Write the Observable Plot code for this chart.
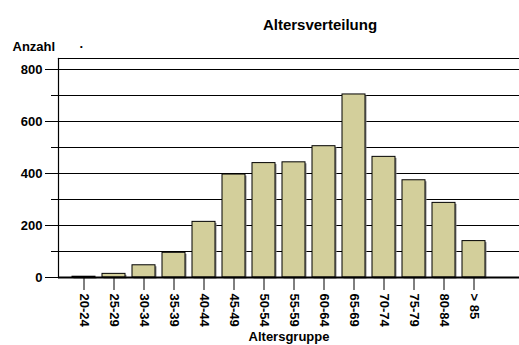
<!DOCTYPE html>
<html>
<head>
<meta charset="utf-8">
<script src="https://cdn.jsdelivr.net/npm/d3@7"></script>
<script src="https://cdn.jsdelivr.net/npm/@observablehq/plot@0.6"></script>
<style>
  body { margin: 0; background: #fff; }
  svg { font-family: "Liberation Sans", Arial, sans-serif; }
  svg text { font-weight: bold; fill: #000; }
</style>
</head>
<body>
<div id="chart"></div>
<script>
const groups = ["20-24","25-29","30-34","35-39","40-44","45-49","50-54","55-59","60-64","65-69","70-74","75-79","80-84","> 85"];
const counts = [3, 14, 47, 95, 214, 396, 440, 443, 505, 704, 464, 374, 287, 140];
const majorTicks = [0, 200, 400, 600, 800];
const minorTicks = [100, 300, 500, 700];
const gridValues = [100, 200, 300, 400, 500, 600, 700, 800];

const data = groups.map((g, i) => ({group: g, count: counts[i]}));

const chart = Plot.plot({
  width: 519,
  height: 345,
  marginLeft: 58,
  marginRight: 0,
  marginTop: 58,
  marginBottom: 68,
  style: {fontFamily: "Liberation Sans, Arial, sans-serif", fontSize: "13px", fontWeight: "bold", color: "#000"},
  x: {domain: groups, range: [58, 499], padding: 0.24},
  y: {domain: [0, 800], range: [277, 69]},
  marks: [
    Plot.ruleY(gridValues, {stroke: "#000", strokeWidth: 1.2}),
    Plot.frame({anchor: "top", stroke: "#000", strokeWidth: 1.2}),
    Plot.frame({anchor: "left", stroke: "#000", strokeWidth: 1.2}),
    Plot.barY(data, {x: "group", y: "count", fill: "#888", dx: 1.5, dy: 1.5}),
    Plot.barY(data, {x: "group", y: "count", fill: "#d3cf9b", stroke: "#000", strokeWidth: 1}),
    Plot.ruleY([0], {stroke: "#000", strokeWidth: 2}),
    Plot.axisY({ticks: minorTicks, tickSize: 7, tickFormat: () => "", stroke: "#000", label: null}),
    Plot.axisY({ticks: majorTicks, tickSize: 13, tickPadding: 3, label: null, fontWeight: "bold", fontSize: 13}),
    Plot.axisX({tickSize: 13, tickRotate: 90, tickPadding: 3, label: "Altersgruppe", labelAnchor: "center", labelOffset: 63, fontWeight: "bold", fontSize: 13}),
    Plot.text(["Anzahl"], {frameAnchor: "top-left", dx: -46, dy: -17, fontWeight: "bold", fontSize: 13, textAnchor: "start"}),
    Plot.text(["·"], {frameAnchor: "top-left", dx: 21, dy: -17, fontWeight: "bold", fontSize: 13}),
    Plot.text(["Altersverteilung"], {frameAnchor: "top", dx: 31, dy: -39, fontWeight: "bold", fontSize: 15})
  ]
});

document.getElementById("chart").append(chart);
</script>
</body>
</html>
